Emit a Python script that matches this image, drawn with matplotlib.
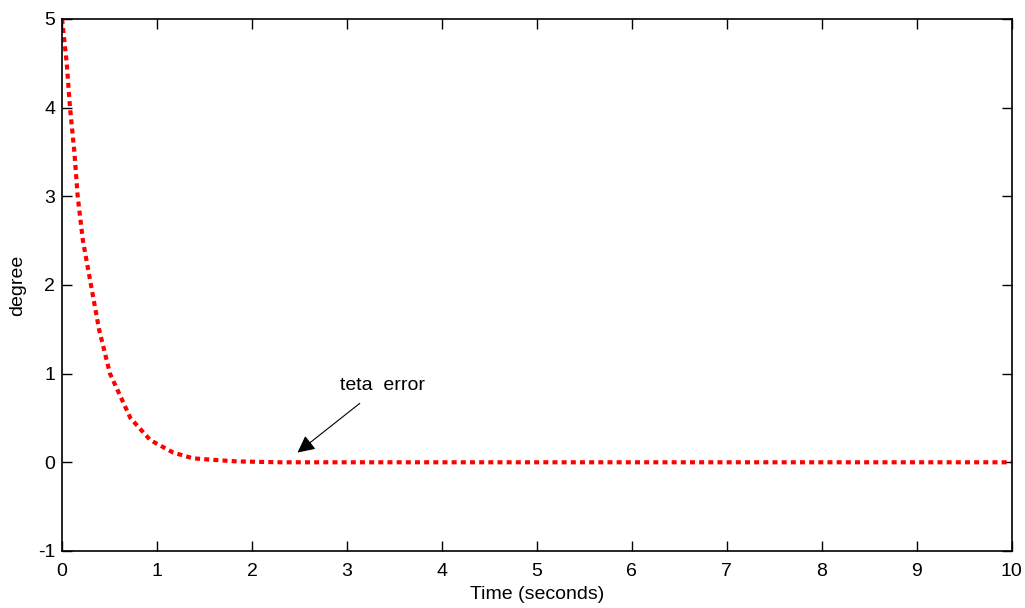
import numpy as np
import matplotlib.pyplot as plt

# values
t = [0, 0.05, 0.084, 0.13, 0.165, 0.22, 0.305, 0.39, 0.505, 0.72, 0.93,
     1.17, 1.38, 1.56, 1.84, 2.3, 3.0, 5.0, 7.5, 10.0]
err = [5.0, 4.5, 4.0, 3.5, 3.0, 2.5, 2.0, 1.5, 1.0, 0.5, 0.25,
       0.11, 0.045, 0.03, 0.01, 0.0, 0.0, 0.0, 0.0, 0.0]

x_ticks = list(range(0, 11))
y_ticks = list(range(-1, 6))

plt.rcParams['font.family'] = ['Liberation Sans', 'DejaVu Sans']
plt.rcParams['axes.unicode_minus'] = False

fig = plt.figure(figsize=(10.25, 6.08), dpi=100)
ax = fig.add_axes([0.0605, 0.0938, 0.9265, 0.875])

ax.plot(t, err, color='red', linewidth=3, dashes=(1.2, 1.0), dash_capstyle='butt')

ax.set_xlim(0, 10)
ax.set_ylim(-1, 5)
ax.set_xticks(x_ticks)
ax.set_yticks(y_ticks)
ax.tick_params(direction='in', length=7, width=1, top=True, right=True,
               labelsize=14, pad=5)
ax.tick_params(axis='x', pad=9)
for s in ax.spines.values():
    s.set_linewidth(1.2)

ax.set_xlabel('Time (seconds)', fontsize=14, labelpad=4)
ax.set_ylabel('degree', fontsize=14, labelpad=8)

ax.annotate('teta  error', xy=(2.48, 0.11), xytext=(2.93, 0.87),
            fontsize=14, ha='left', va='center',
            arrowprops=dict(arrowstyle='-|>', color='black', lw=0.8,
                            mutation_scale=26, shrinkA=8, shrinkB=0))

fig.savefig('out.png', dpi=100)
